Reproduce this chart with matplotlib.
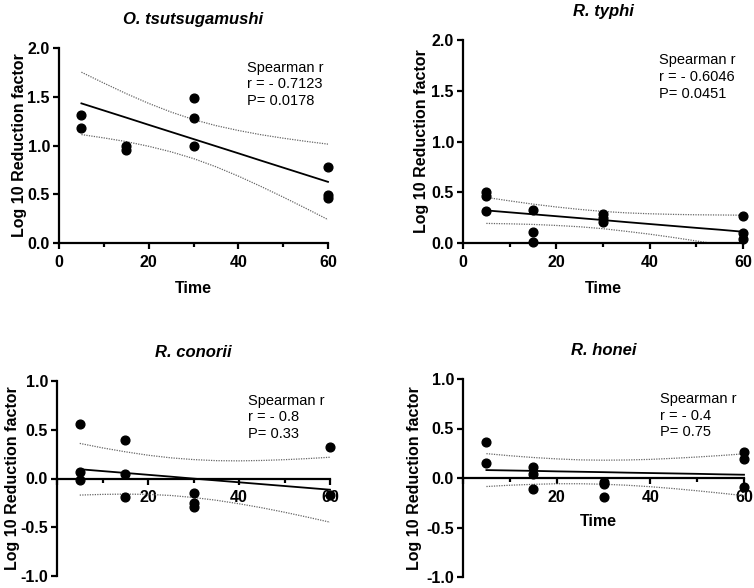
import numpy as np
import matplotlib.pyplot as plt

plt.rcParams['font.family'] = ['Liberation Sans', 'DejaVu Sans']

# ========== DATA ==========
# x positions where the fit line and the 95% band were read off the picture
band_x = [5, 10, 15, 20, 25, 30, 35, 40, 45, 50, 55, 60]

# O. tsutsugamushi
ots_x = [5, 5, 15, 15, 30, 30, 30, 60, 60, 60]
ots_y = [1.31, 1.18, 1.00, 0.95, 1.49, 1.28, 0.99, 0.78, 0.49, 0.46]
ots_fit = [1.432, 1.359, 1.286, 1.212, 1.139, 1.066, 0.993, 0.920, 0.846, 0.773, 0.700, 0.627]
ots_upper = [1.752, 1.640, 1.532, 1.432, 1.343, 1.266, 1.204, 1.154, 1.111, 1.075, 1.043, 1.014]
ots_lower = [1.112, 1.078, 1.040, 0.992, 0.935, 0.866, 0.782, 0.686, 0.581, 0.471, 0.357, 0.240]

# R. typhi
typ_x = [5, 5, 5, 15, 15, 15, 30, 30, 30, 60, 60, 60]
typ_y = [0.50, 0.46, 0.32, 0.33, 0.11, 0.01, 0.29, 0.25, 0.21, 0.27, 0.10, 0.04]
typ_fit = [0.321, 0.302, 0.283, 0.264, 0.245, 0.226, 0.206, 0.187, 0.168, 0.149, 0.131, 0.111]
typ_upper = [0.449, 0.415, 0.383, 0.355, 0.331, 0.311, 0.297, 0.288, 0.282, 0.278, 0.276, 0.274]
typ_lower = [0.193, 0.189, 0.183, 0.173, 0.160, 0.141, 0.115, 0.087, 0.055, 0.020, -0.014, -0.052]

# R. conorii
con_x = [5, 5, 5, 15, 15, 15, 30, 30, 30, 60, 60]
con_y = [0.56, 0.07, -0.02, 0.40, 0.05, -0.19, -0.15, -0.25, -0.29, 0.32, -0.17]
con_fit = [0.095, 0.076, 0.057, 0.038, 0.019, -0.001, -0.020, -0.039, -0.058, -0.077, -0.096, -0.115]
con_upper = [0.360, 0.314, 0.274, 0.239, 0.212, 0.194, 0.183, 0.181, 0.185, 0.193, 0.204, 0.218]
con_lower = [-0.170, -0.163, -0.160, -0.163, -0.174, -0.195, -0.223, -0.259, -0.300, -0.346, -0.396, -0.448]

# R. honei
hon_x = [5, 5, 15, 15, 15, 30, 30, 30, 60, 60, 60]
hon_y = [0.36, 0.15, 0.11, 0.04, -0.11, -0.04, -0.06, -0.19, 0.26, 0.19, -0.09]
hon_fit = [0.080, 0.076, 0.072, 0.067, 0.063, 0.059, 0.054, 0.050, 0.046, 0.042, 0.037, 0.033]
hon_upper = [0.246, 0.225, 0.207, 0.193, 0.183, 0.180, 0.182, 0.188, 0.199, 0.212, 0.227, 0.244]
hon_lower = [-0.086, -0.073, -0.064, -0.058, -0.058, -0.063, -0.073, -0.088, -0.107, -0.129, -0.153, -0.178]

titles = ['O. tsutsugamushi', 'R. typhi', 'R. conorii', 'R. honei']
stats = ['Spearman r\nr = - 0.7123\nP= 0.0178',
         'Spearman r\nr = - 0.6046\nP= 0.0451',
         'Spearman r\nr = - 0.8\nP= 0.33',
         'Spearman r\nr = - 0.4\nP= 0.75']

# ========== FIGURE ==========
W, H = 754, 588
fig = plt.figure(figsize=(W / 100, H / 100), dpi=100)


def box(left, right, top, bottom):
    """pixel box -> figure fraction [l, b, w, h]"""
    return [left / W, 1 - bottom / H, (right - left) / W, (bottom - top) / H]


def panel(rect, x, y, fit, upper, lower, title, stat, lower_half, ylab_x):
    ax = fig.add_axes(rect)
    ax.plot(band_x, upper, color='#666666', lw=0.9, ls=(0, (1, 1)))
    ax.plot(band_x, lower, color='#666666', lw=0.9, ls=(0, (1, 1)))
    ax.plot(band_x, fit, color='black', lw=1.3, clip_on=False)
    ax.plot(x, y, 'o', color='black', ms=6.3, clip_on=False, zorder=5)

    ax.set_xlim(0, 60)
    ax.set_xticks([0, 20, 40, 60])
    ax.set_xticks([10, 30, 50], minor=True)
    if lower_half:
        ax.set_ylim(-1, 1)
        ax.set_yticks([-1, -0.5, 0, 0.5, 1])
        ax.set_yticklabels(['-1.0', '-0.5', '0.0', '0.5', '1.0'])
        ax.set_xticklabels(['', '20', '40', '60'])
        ax.spines['bottom'].set_position(('data', 0))
    else:
        ax.set_ylim(0, 2)
        ax.set_yticks([0, 0.5, 1, 1.5, 2])
        ax.set_yticklabels(['0.0', '0.5', '1.0', '1.5', '2.0'])
        ax.set_xticklabels(['0', '20', '40', '60'])

    for s in ['top', 'right']:
        ax.spines[s].set_visible(False)
    for s in ['left', 'bottom']:
        ax.spines[s].set_linewidth(1.6)
    ax.tick_params(which='major', length=4.5, width=1.6, labelsize=11.5, pad=2)
    ax.tick_params(which='minor', length=3, width=1.6)
    ax.tick_params(axis='x', pad=4)
    for lab in ax.get_xticklabels() + ax.get_yticklabels():
        lab.set_fontweight('bold')

    ax.set_title(title, fontsize=12, fontweight='bold', fontstyle='italic', pad=17)
    ax.set_ylabel('Log 10 Reduction factor', fontsize=11.5, fontweight='bold')
    ax.yaxis.set_label_coords(ylab_x, 0.5)
    ax.text(0.70, 0.935, stat, transform=ax.transAxes, fontsize=10.5,
            va='top', ha='left', linespacing=1.25)
    return ax


ax1 = panel(box(59, 328, 48, 243), ots_x, ots_y, ots_fit, ots_upper, ots_lower,
            titles[0], stats[0], False, -0.119)
ax1.set_xlabel('Time', fontsize=11.5, fontweight='bold', labelpad=8)

ax2 = panel(box(463, 743, 40, 243), typ_x, typ_y, typ_fit, typ_upper, typ_lower,
            titles[1], stats[1], False, -0.121)
ax2.set_xlabel('Time', fontsize=11.5, fontweight='bold', labelpad=8)

ax3 = panel(box(57, 330, 381, 576), con_x, con_y, con_fit, con_upper, con_lower,
            titles[2], stats[2], True, -0.136)

ax4 = panel(box(463, 744, 379, 577), hon_x, hon_y, hon_fit, hon_upper, hon_lower,
            titles[3], stats[3], True, -0.146)
ax4.text(29, -0.44, 'Time', fontsize=11.5, fontweight='bold', ha='center', va='center')

fig.savefig('out.png', dpi=100)
